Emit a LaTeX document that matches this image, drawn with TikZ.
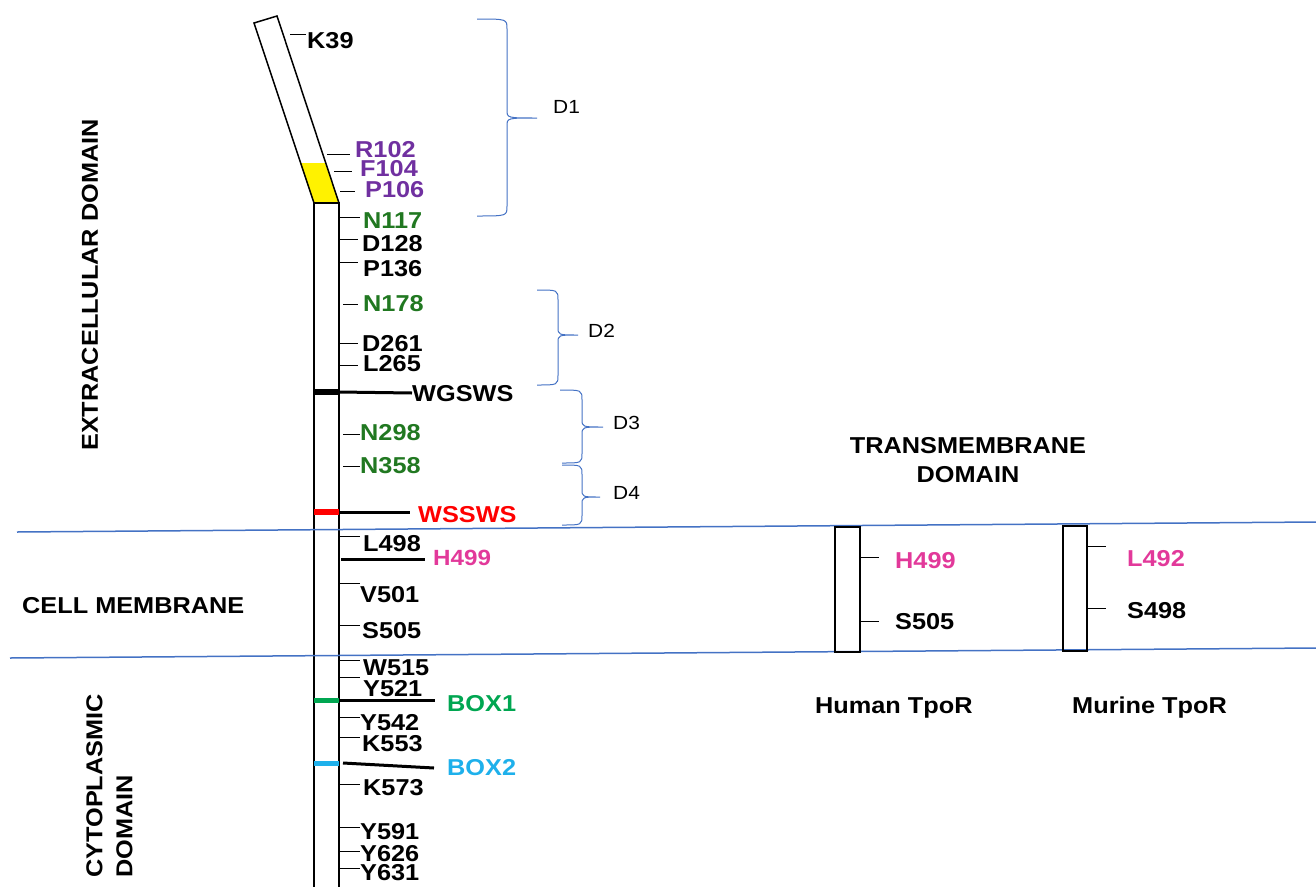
\documentclass[tikz,border=0pt]{standalone}
\usepackage{fontspec}
\setmainfont{Liberation Sans}[FakeStretch=1.1]
\definecolor{purp}{HTML}{7030A0}
\definecolor{dgreen}{HTML}{217821}
\definecolor{mag}{HTML}{E2399A}
\definecolor{boxone}{HTML}{00A651}
\definecolor{boxtwo}{HTML}{1EB0EB}
\definecolor{mred}{HTML}{FF0000}
\definecolor{mblue}{HTML}{4472C4}
\newcommand\mybrace[7]{%
  \draw[brc] (#1,#4) .. controls (#2,#4) .. (#2,#4+10) -- (#2,#5-8)
    .. controls (#2,#5) .. (#3,#5) .. controls (#2,#5) .. (#2,#5+8)
    -- (#2,#6-10) .. controls (#2,#6) .. (#7,#6);}
\tikzset{
  lbl/.style={anchor=west, inner sep=0pt, text height=16pt, text depth=0pt, font=\fontsize{23}{27}\selectfont\bfseries},
  dlbl/.style={anchor=west, inner sep=0pt, text height=13pt, text depth=0pt, font=\fontsize{19}{22}\selectfont},
  tick/.style={line width=1pt},
  longline/.style={line width=3pt},
  barline/.style={line width=1.5pt},
  brc/.style={mblue, line width=1pt},
  memb/.style={mblue, line width=1.5pt},
}
\begin{document}
\begin{tikzpicture}[x=1pt,y=-1pt]
\useasboundingbox (0,0) rectangle (1316,886);
% tilted segment
\fill[yellow] (300,163) -- (325,163) -- (339,203) -- (314,203) -- cycle;
\draw[barline] (314,203) -- (254,23) -- (277,16) -- (339,203);
% vertical bar
\draw[barline] (314,890) -- (314,203) -- (339,203) -- (339,890);
% marks on bar
\fill[black] (314,389) rectangle (339,395);
\fill[mred] (314,509) rectangle (339,515);
\fill[boxone] (314,698) rectangle (339,703);
\fill[boxtwo] (314,761) rectangle (339,766);
% membrane lines
\draw[memb] (17,532) -- (1316,522);
\draw[memb] (10,658) -- (1316,648);

% tilted-part labels
\draw[tick] (290,34) -- (306,34);
\node[lbl] (k39) at (307,40) {K39};
\draw[tick] (327,154) -- (350,154);
\node[lbl, text=purp] (r102) at (355,149) {R102};
\draw[tick] (334,171) -- (352,171);
\node[lbl, text=purp] (f104) at (360,168) {F104};
\draw[tick] (340,191) -- (355,191);
\node[lbl, text=purp] (p106) at (365,189) {P106};

% extracellular
\draw[tick] (339,217) -- (360,217);
\node[lbl, text=dgreen] (n117) at (363,220) {N117};
\draw[tick] (339,239) -- (358,239);
\node[lbl] (d128) at (362,243) {D128};
\draw[tick] (339,262) -- (358,262);
\node[lbl] (p136) at (363,268) {P136};
\draw[tick] (343,304) -- (358,304);
\node[lbl, text=dgreen] (n178) at (363,303) {N178};
\draw[tick] (339,343) -- (358,343);
\node[lbl] (d261) at (362,343) {D261};
\draw[tick] (339,365) -- (358,365);
\node[lbl] (l265) at (363,363) {L265};
\node[lbl] (wgsws) at (412,393) {WGSWS};
\draw[longline] (339,392) -- (wgsws.west);
\draw[tick] (343,434) -- (360,434);
\node[lbl, text=dgreen] (n298) at (360,432) {N298};
\draw[tick] (343,466) -- (360,466);
\node[lbl, text=dgreen] (n358) at (360,465) {N358};
\node[lbl, text=mred] (wssws) at (418,514) {WSSWS};
\draw[longline] (339,512) -- (410,512);

% membrane
\draw[tick] (339,536) -- (360,536);
\node[lbl] (l498) at (363,543) {L498};
\node[lbl, text=mag, font=\fontsize{22}{26}\selectfont\bfseries] (h499) at (433,557) {H499};
\draw[longline] (341,559) -- (425,559);
\draw[tick] (339,583) -- (360,583);
\node[lbl] (v501) at (360,594) {V501};
\draw[tick] (339,625) -- (360,625);
\node[lbl] (s505) at (362,630) {S505};

% cytoplasmic
\draw[tick] (339,660) -- (360,660);
\node[lbl] (w515) at (363,667) {W515};
\draw[tick] (339,677) -- (360,677);
\node[lbl] (y521) at (363,688) {Y521};
\node[lbl, text=boxone] (box1) at (447,703) {BOX1};
\draw[longline] (339,700) -- (435,700);
\draw[tick] (339,717) -- (360,717);
\node[lbl] (y542) at (360,722) {Y542};
\draw[tick] (339,737) -- (360,737);
\node[lbl] (k553) at (362,743) {K553};
\node[lbl, text=boxtwo] (box2) at (447,767) {BOX2};
\draw[longline] (343,763) -- (434,768);
\draw[tick] (339,784) -- (360,784);
\node[lbl] (k573) at (363,787) {K573};
\draw[tick] (339,827) -- (360,827);
\node[lbl] (y591) at (360,831) {Y591};
\draw[tick] (339,851) -- (360,851);
\node[lbl] (y626) at (360,853) {Y626};
\draw[tick] (339,868) -- (360,868);
\node[lbl] (y631) at (360,872) {Y631};

% braces
\mybrace{477}{507}{537}{19}{118}{216}{477}
\node[dlbl] (d1) at (553,107) {D1};
\mybrace{537}{558}{578}{290}{335}{385}{537}
\node[dlbl] (d2) at (588,331) {D2};
\mybrace{560}{582}{603}{390}{427}{463}{562}
\node[dlbl] (d3) at (613,423) {D3};
\mybrace{562}{582}{600}{465}{497}{525}{562}
\node[dlbl] (d4) at (613,493) {D4};

% left labels
\node[font=\fontsize{23}{27}\selectfont\bfseries, rotate=90, inner sep=0pt] (extra) at (90,285) {EXTRACELLULAR DOMAIN};
\node[font=\fontsize{23}{27}\selectfont\bfseries, anchor=west, inner sep=0pt, text height=16.5pt, text depth=0pt] (cellm) at (22,605) {CELL MEMBRANE};
\node[font=\fontsize{23}{30}\selectfont\bfseries, rotate=90, align=left, inner sep=0pt, anchor=north west] (cyto) at (86,878) {CYTOPLASMIC\\DOMAIN};

% right side
\node[font=\fontsize{23}{29}\selectfont\bfseries, align=center, inner sep=0pt] (tmd) at (968,460) {TRANSMEMBRANE\\DOMAIN};
\draw[barline] (835,527) rectangle (860,652);
\draw[tick] (860,557) -- (879,557);
\node[lbl, text=mag] (hh499) at (895,560) {H499};
\draw[tick] (860,621) -- (879,621);
\node[lbl] (hs505) at (895,621) {S505};
\draw[barline] (1063,526) rectangle (1087,651);
\draw[tick] (1087,546) -- (1106,546);
\node[lbl, text=mag] (ml492) at (1127,558) {L492};
\draw[tick] (1087,608) -- (1106,608);
\node[lbl] (ms498) at (1127,610) {S498};
\node[font=\fontsize{23}{27}\selectfont\bfseries, anchor=base west, inner sep=0pt] (human) at (815,713) {Human TpoR};
\node[font=\fontsize{23}{27}\selectfont\bfseries, anchor=base west, inner sep=0pt] (murine) at (1072,713) {Murine TpoR};
\end{tikzpicture}
\end{document}
